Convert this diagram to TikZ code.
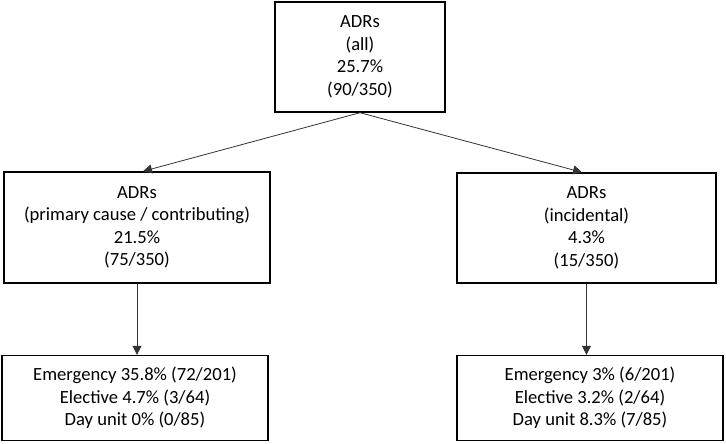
\documentclass[tikz,border=0pt]{standalone}
\usepackage{fontspec}
\setmainfont{Carlito}
\usetikzlibrary{arrows.meta}
\begin{document}
\begin{tikzpicture}[x=1pt,y=-1pt,
  box/.style={draw=black,line width=1.4pt,fill=white,inner sep=0pt,align=center,
    font=\fontsize{18.6}{22.5}\selectfont},
  conn/.style={draw=black!80,line width=0.8pt,-{Triangle[length=9pt,width=9pt]}}]
\useasboundingbox[fill=white] (0,0) rectangle (726,444);
\node[box,minimum width=170pt,minimum height=110pt] (T) at (360,57) {ADRs\\(all)\\25.7\%\\(90/350)};
\node[box,minimum width=266pt,minimum height=111pt] (L) at (137,227.5) {ADRs\\(primary cause / contributing)\\21.5\%\\(75/350)};
\node[box,minimum width=259pt,minimum height=110pt] (R) at (586.5,228) {ADRs\\(incidental)\\4.3\%\\(15/350)};
\node[box,minimum width=266pt,minimum height=85pt] (BL) at (135,398) {Emergency 35.8\% (72/201)\\Elective 4.7\% (3/64)\\Day unit 0\% (0/85)};
\node[box,minimum width=266pt,minimum height=85pt] (BR) at (590,398) {Emergency 3\% (6/201)\\Elective 3.2\% (2/64)\\Day unit 8.3\% (7/85)};
\draw[conn] (T.south) -- ([xshift=6pt]L.north);
\draw[conn] (T.south) -- ([xshift=-4.5pt]R.north);
\draw[conn] (L.south) -- (L.south |- BL.north);
\draw[conn] (R.south) -- (R.south |- BR.north);
\end{tikzpicture}
\end{document}
